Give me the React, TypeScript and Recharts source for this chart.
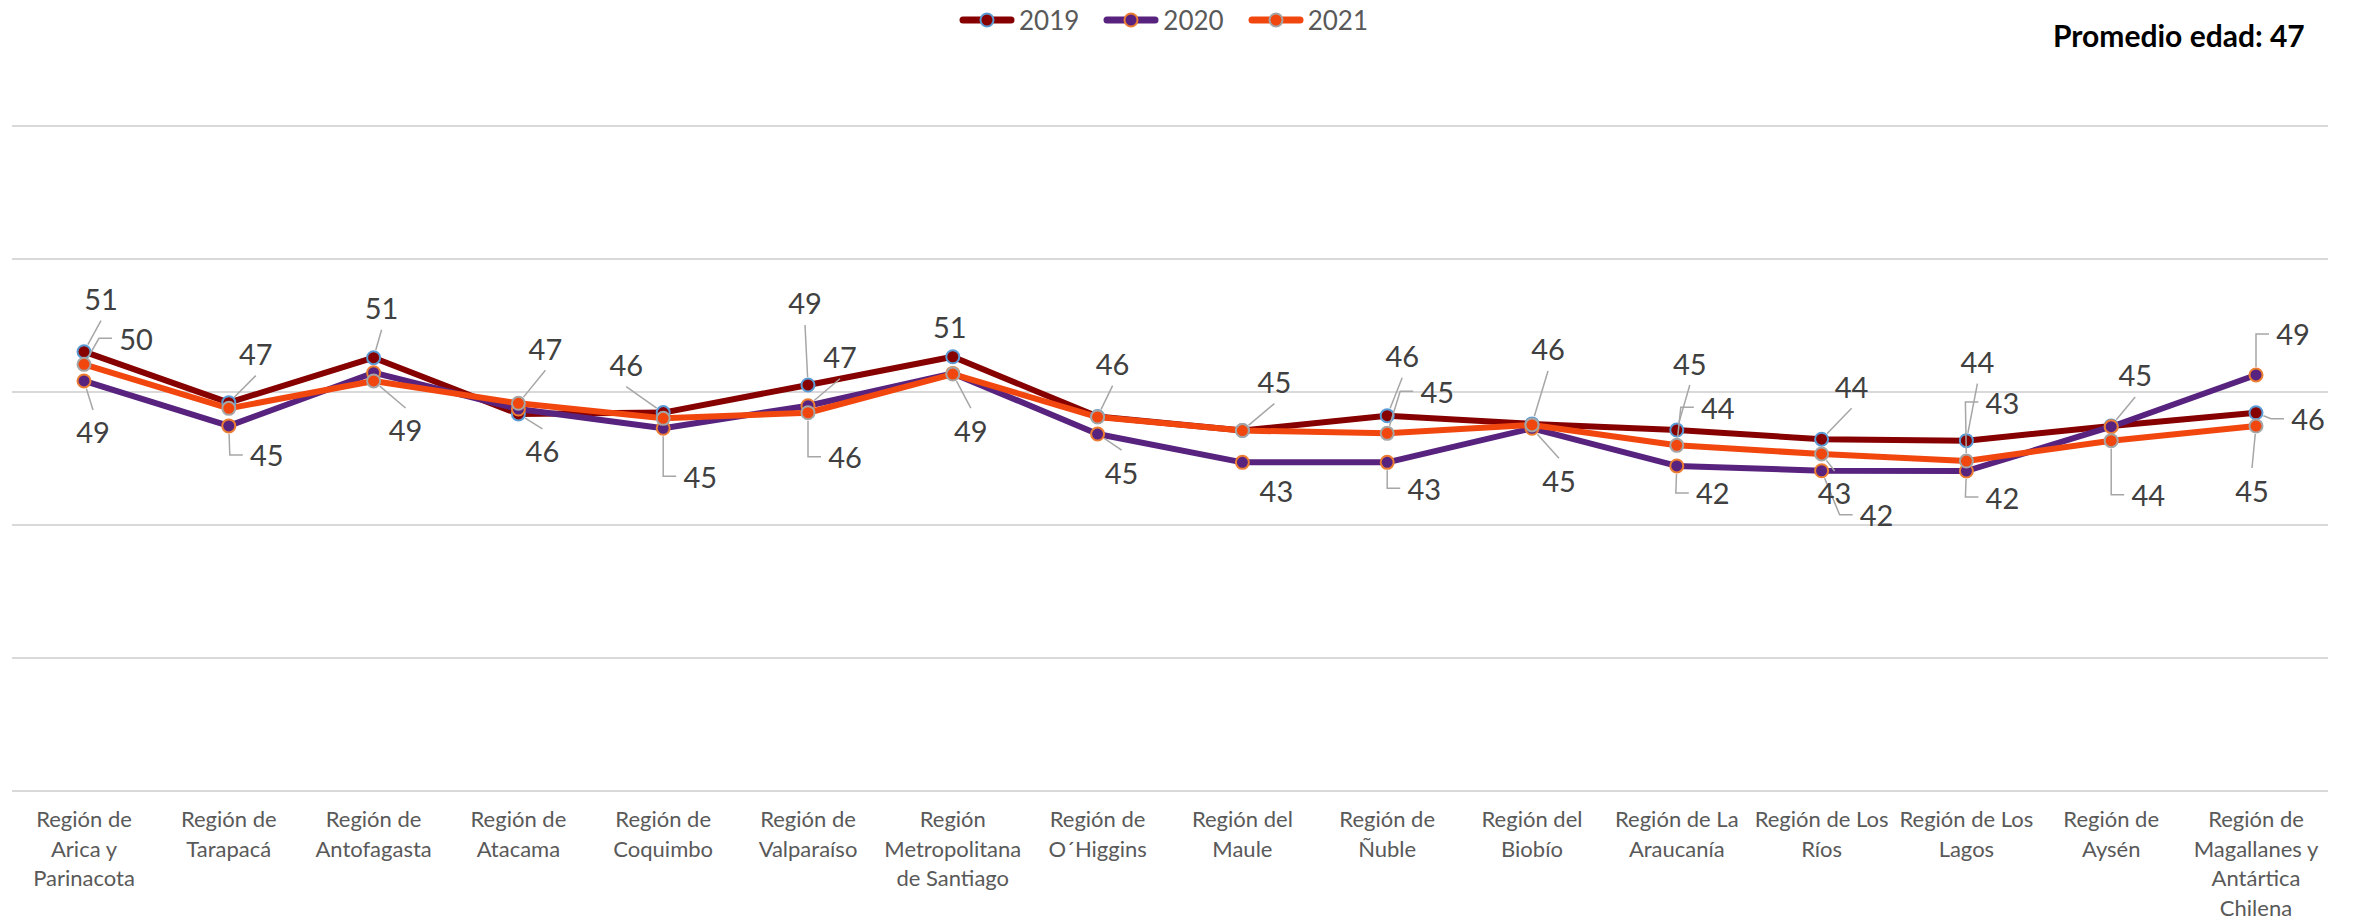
import { LineChart, Line, XAxis, YAxis, CartesianGrid, Legend, LabelList } from "recharts";

const categories = [
  "Región de Arica y Parinacota",
  "Región de Tarapacá",
  "Región de Antofagasta",
  "Región de Atacama",
  "Región de Coquimbo",
  "Región de Valparaíso",
  "Región Metropolitana de Santiago",
  "Región de O´Higgins",
  "Región del Maule",
  "Región de Ñuble",
  "Región del Biobío",
  "Región de La Araucanía",
  "Región de Los Ríos",
  "Región de Los Lagos",
  "Región de Aysén",
  "Región de Magallanes y Antártica Chilena",
];

const values2019 = [51.03, 47.2, 50.58, 46.35, 46.45, 48.53, 50.65, 46.15, 45.1, 46.22, 45.6, 45.14, 44.45, 44.34, 45.45, 46.44];
const values2020 = [48.83, 45.45, 49.45, 46.72, 45.27, 46.97, 49.4, 44.84, 42.71, 42.71, 45.27, 42.44, 42.08, 42.06, 45.39, 49.28];
const values2021 = [50.08, 46.77, 48.83, 47.15, 46.02, 46.44, 49.35, 46.12, 45.1, 44.89, 45.52, 43.99, 43.34, 42.81, 44.34, 45.44];

const averageAge = 47;
const yTicks = [18, 28, 38, 48, 58, 68];

const data = categories.map((region, i) => ({
  region,
  y2019: values2019[i],
  y2020: values2020[i],
  y2021: values2021[i],
}));

// label placement relative to the point: [dx, dy, leader] (e = elbow, d = straight, n = none)
type Spot = [number, number, "e" | "d" | "n"] | null;

const spots2019: Spot[] = [
  [17, -53, "d"], [27, -49, "d"], [8, -50, "d"], [24, 37, "d"], [-37, -48, "d"], [-3, -82, "d"],
  [-3, -30, "n"], [15, -53, "d"], [32, -49, "d"], [15, -60, "d"], [16, -75, "d"], [13, -67, "d"],
  [30, -53, "d"], [11, -79, "d"], [24, -51, "d"], [52, 6, "e"],
];
const spots2020: Spot[] = [
  [9, 51, "d"], [38, 29, "e"], null, null, [37, 48, "e"], [32, -49, "d"], null, [24, 38, "d"],
  [34, 28, "n"], [37, 26, "e"], [27, 52, "d"], [36, 27, "e"], [55, 44, "e"], [36, 26, "e"], null,
  [37, -41, "e"],
];
const spots2021: Spot[] = [
  [52, -26, "e"], null, [32, 49, "d"], [27, -55, "d"], null, [37, 44, "e"], [18, 56, "d"], null,
  null, [50, -42, "e"], null, [41, -38, "e"], [13, 39, "d"], [36, -59, "e"], [37, 54, "e"],
  [-4, 64, "d"],
];

const series = [
  { key: "y2019", name: "2019", color: "#870000", marker: "#5B9BD5", spots: spots2019 },
  { key: "y2020", name: "2020", color: "#58237F", marker: "#ED7D31", spots: spots2020 },
  { key: "y2021", name: "2021", color: "#F1470F", marker: "#A5A5A5", spots: spots2021 },
];

const FONT = "Lato, 'Open Sans', sans-serif";

const wrapLabel = (text: string, maxChars = 13) => {
  const lines: string[] = [];
  let cur = "";
  for (const w of text.split(" ")) {
    const next = cur ? cur + " " + w : w;
    if (next.length > maxChars && cur) {
      lines.push(cur);
      cur = w;
    } else {
      cur = next;
    }
  }
  if (cur) lines.push(cur);
  return lines;
};

const RegionTick = (props: any) => {
  const { x, y, payload } = props;
  const lines = wrapLabel(payload.value);
  return (
    <text x={x} y={y + 36} textAnchor="middle" fontSize={22} fontFamily={FONT} fill="#595959">
      {lines.map((l, i) => (
        <tspan key={i} x={x} dy={i === 0 ? 0 : 29.5}>
          {l}
        </tspan>
      ))}
    </text>
  );
};

const makeLabel = (spots: Spot[]) => (props: any) => {
  const spot = spots[props.index];
  if (!spot) return null;
  const px = props.x ?? props.viewBox?.x;
  const py = props.y ?? props.viewBox?.y;
  if (px == null || py == null) return null;
  const [dx, dy, kind] = spot;
  const lx = px + dx;
  const ly = py + dy;
  let leader = null;
  const from = (tx: number, ty: number) => {
    const vx = tx - px;
    const vy = ty - py;
    const len = Math.sqrt(vx * vx + vy * vy) || 1;
    return [px + (vx / len) * 8, py + (vy / len) * 8];
  };
  if (kind === "e") {
    const cx = lx - 37;
    const [sx, sy] = from(cx, ly);
    leader = (
      <polyline
        points={`${sx},${sy} ${cx},${ly} ${lx - 24},${ly}`}
        fill="none"
        stroke="#A6A6A6"
        strokeWidth={1.5}
      />
    );
  } else if (kind === "d") {
    const ex = lx;
    const ey = ly + (dy < 0 ? 22 : -22);
    const [sx, sy] = from(ex, ey);
    leader = <line x1={sx} y1={sy} x2={ex} y2={ey} stroke="#A6A6A6" strokeWidth={1.5} />;
  }
  return (
    <g>
      {leader}
      <text
        x={lx}
        y={ly}
        textAnchor="middle"
        dominantBaseline="central"
        fontSize={29}
        fontFamily={FONT}
        fill="#404040"
      >
        {Math.round(props.value)}
      </text>
    </g>
  );
};

const LegendContent = () => (
  <div
    style={{
      display: "flex",
      alignItems: "center",
      height: 40,
      marginLeft: 959,
      fontFamily: FONT,
      fontSize: 26,
      color: "#595959",
    }}
  >
    {series.map((s) => (
      <div key={s.key} style={{ display: "flex", alignItems: "center", marginRight: 24 }}>
        <svg width={56} height={18}>
          <line x1={4} y1={9} x2={52} y2={9} stroke={s.color} strokeWidth={7} strokeLinecap="round" />
          <circle cx={28} cy={9} r={6.5} fill={s.color} stroke={s.marker} strokeWidth={2} />
        </svg>
        <span style={{ marginLeft: 4, lineHeight: "40px" }}>{s.name}</span>
      </div>
    ))}
  </div>
);

const App = () => {
  return (
    <div style={{ position: "relative", width: 2356, height: 920, background: "#fff" }}>
      <style>{"body{margin:0}"}</style>
      <LineChart width={2356} height={920} data={data} margin={{ top: 126, right: 28, left: 12, bottom: 0 }}>
        <CartesianGrid vertical={false} stroke="#D9D9D9" strokeWidth={2} />
        <XAxis
          dataKey="region"
          height={129}
          axisLine={false}
          tickLine={false}
          tickSize={0}
          tickMargin={0}
          interval={0}
          padding={{ left: 72, right: 72 }}
          tick={<RegionTick />}
        />
        <YAxis hide domain={[18, 68]} ticks={yTicks} />
        <Legend
          layout="horizontal"
          verticalAlign="middle"
          align="center"
          wrapperStyle={{ top: 0, left: 0, width: 2356, height: 40 }}
          content={<LegendContent />}
        />
        {series.map((s) => (
          <Line
            key={s.key}
            type="linear"
            dataKey={s.key}
            name={s.name}
            stroke={s.color}
            strokeWidth={6}
            strokeLinejoin="round"
            dot={{ r: 6.5, fill: s.color, stroke: s.marker, strokeWidth: 2 }}
            activeDot={false}
            isAnimationActive={false}
          >
            <LabelList dataKey={s.key} content={makeLabel(s.spots)} />
          </Line>
        ))}
      </LineChart>
      <div
        style={{
          position: "absolute",
          left: 2053,
          top: 20,
          fontFamily: FONT,
          fontWeight: 700,
          fontSize: 30,
          lineHeight: "30px",
          color: "#000",
          whiteSpace: "nowrap",
        }}
      >
        Promedio edad: {averageAge}
      </div>
    </div>
  );
};

export default App;
